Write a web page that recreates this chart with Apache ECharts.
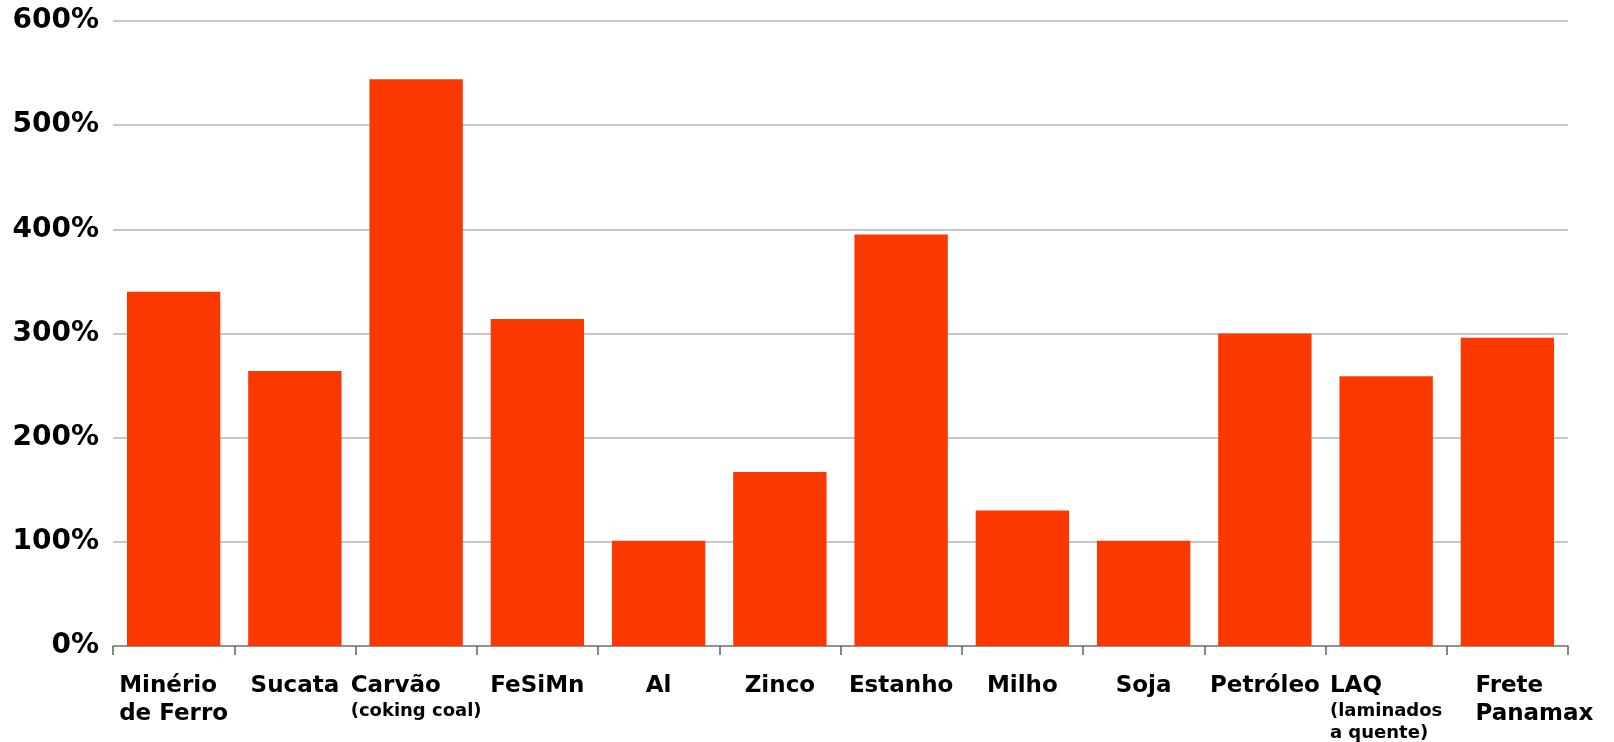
<!DOCTYPE html>
<html>
<head>
<meta charset="utf-8">
<script src="https://cdn.jsdelivr.net/npm/echarts@6/dist/echarts.min.js"></script>
<style>
html,body{margin:0;padding:0;background:#fff;}
#c{width:1614px;height:742px;}
</style>
</head>
<body>
<div id="c"></div>
<script>
const categories = ['Minério\nde Ferro', 'Sucata', 'Carvão', 'FeSiMn', 'Al', 'Zinco', 'Estanho', 'Milho', 'Soja', 'Petróleo', 'LAQ', 'Frete\nPanamax'];
const subLabels = ['', '', '(coking coal)', '', '', '', '', '', '', '', '(laminados\na quente)', ''];
const values = [340, 264, 544, 314, 101, 167, 395, 130, 101, 300, 259, 296];
const yTicks = [0, 100, 200, 300, 400, 500, 600];

const chart = echarts.init(document.getElementById('c'));
chart.setOption({
  animation: false,
  grid: { left: 113, right: 46, top: 21, bottom: 96, containLabel: false },
  xAxis: {
    type: 'category',
    data: categories,
    axisLine: { lineStyle: { color: '#808080', width: 1.5 } },
    axisTick: { show: true, length: 9, lineStyle: { color: '#606060', width: 1.5 } },
    axisLabel: {
      interval: 0,
      margin: 26,
      color: '#000',
      formatter: function (v, i) {
        const last = i === categories.length - 1;
        const key = last ? 'p' : 'b';
        let parts = v.split('\n').map(s => '{' + key + '|' + s + '}');
        const sub = subLabels[i];
        if (sub) parts = parts.concat(sub.split('\n').map(s => '{s|' + s + '}'));
        return parts.join('\n');
      },
      rich: {
        b: { fontFamily: 'DejaVu Sans', fontWeight: 'bold', fontSize: 23, lineHeight: 28, color: '#000', align: 'left' },
        p: { fontFamily: 'DejaVu Sans', fontWeight: 'bold', fontSize: 23, lineHeight: 28, color: '#000', align: 'left', padding: [0, 0, 0, 54] },
        s: { fontFamily: 'DejaVu Sans', fontWeight: 'bold', fontSize: 18, lineHeight: 22, color: '#000', align: 'left' }
      }
    }
  },
  yAxis: {
    type: 'value',
    min: yTicks[0],
    max: yTicks[yTicks.length - 1],
    interval: 100,
    axisLine: { show: false },
    axisTick: { show: false },
    axisLabel: {
      formatter: '{value}%',
      fontFamily: 'DejaVu Sans',
      fontWeight: 'bold',
      fontSize: 28,
      color: '#000',
      margin: 14
    },
    splitLine: { lineStyle: { color: '#b4b4b4', width: 1.5 } }
  },
  series: [{
    type: 'bar',
    data: values,
    barCategoryGap: '23%',
    itemStyle: { color: '#FA3800' }
  }]
});
</script>
</body>
</html>
